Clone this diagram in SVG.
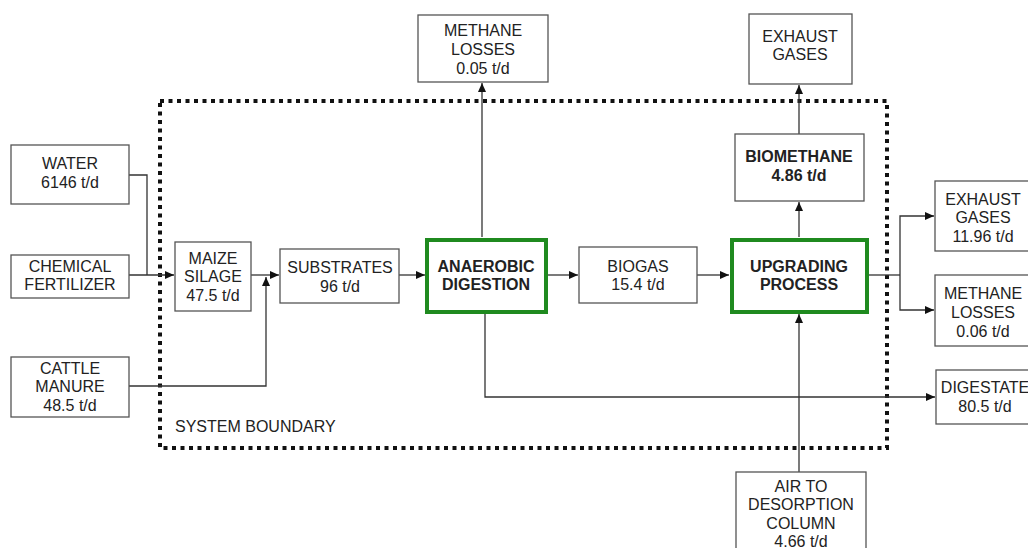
<svg xmlns="http://www.w3.org/2000/svg" width="1028" height="548" viewBox="0 0 1028 548">
<style>
.box{fill:#fff;stroke:#555;stroke-width:1.3}
.gbox{fill:#fff;stroke:#1f8a1f;stroke-width:4}
text{font-family:"Liberation Sans",Arial,sans-serif;font-size:16px;fill:#222;text-anchor:middle}
.b{font-weight:bold}
.c{fill:none;stroke:#333;stroke-width:1.3}
.arr{marker-end:url(#ah)}
</style>
<defs>
<marker id="ah" markerWidth="10" markerHeight="8" refX="9" refY="4" orient="auto" markerUnits="userSpaceOnUse">
<path d="M0,0 L9,4 L0,8 Z" fill="#111"/>
</marker>
</defs>
<rect width="1028" height="548" fill="#fff"/>
<g id="boundary">
<rect x="160" y="101" width="727" height="347" fill="none" stroke="#111" stroke-width="4" stroke-dasharray="4 4.5"/>
<text x="175" y="432" style="text-anchor:start">SYSTEM BOUNDARY</text>
</g>
<g id="connectors">
<path class="c" d="M129,175 H147 V275"/>
<path class="c arr" d="M129,275 H174"/>
<path class="c arr" d="M251,275 H279"/>
<path class="c arr" d="M129,386 H266 V277"/>
<path class="c arr" d="M399,275 H425"/>
<path class="c arr" d="M482,237 V83"/>
<path class="c arr" d="M546,275 H578"/>
<path class="c arr" d="M485,314 V397 H935"/>
<path class="c arr" d="M697,275 H729"/>
<path class="c arr" d="M799,237 V202"/>
<path class="c arr" d="M799,134 V85"/>
<path class="c" d="M869,275 H900"/>
<path class="c arr" d="M900,275 V216 H934"/>
<path class="c arr" d="M900,275 V310 H934"/>
<path class="c arr" d="M799,472 V314"/>
</g>
<g id="water"><rect class="box" x="11" y="145" width="118" height="59"/><text x="70" y="168.5">WATER</text><text x="70" y="187.5">6146 t/d</text></g>
<g id="fertilizer"><rect class="box" x="11" y="255" width="118" height="43"/><text x="70" y="271.5">CHEMICAL</text><text x="70" y="289.5">FERTILIZER</text></g>
<g id="manure"><rect class="box" x="11" y="357" width="118" height="60"/><text x="70" y="373.5">CATTLE</text><text x="70" y="391.5">MANURE</text><text x="70" y="410.5">48.5 t/d</text></g>
<g id="maize"><rect class="box" x="175" y="242" width="76" height="69"/><text x="213" y="263.5">MAIZE</text><text x="213" y="281.5">SILAGE</text><text x="213" y="300.5">47.5 t/d</text></g>
<g id="substrates"><rect class="box" x="280" y="249" width="119" height="54"/><text x="340" y="272.5">SUBSTRATES</text><text x="340" y="291.5">96 t/d</text></g>
<g id="digestion"><rect class="gbox" x="427" y="240" width="119" height="72"/><text class="b" x="486" y="271.5">ANAEROBIC</text><text class="b" x="486" y="289.5">DIGESTION</text></g>
<g id="methane-losses-1"><rect class="box" x="418" y="15" width="130" height="67"/><text x="483" y="35.5">METHANE</text><text x="483" y="54.5">LOSSES</text><text x="483" y="73.5">0.05 t/d</text></g>
<g id="biogas"><rect class="box" x="579" y="247" width="118" height="56"/><text x="638" y="271.5">BIOGAS</text><text x="638" y="289.5">15.4 t/d</text></g>
<g id="upgrading"><rect class="gbox" x="732" y="240" width="135" height="72"/><text class="b" x="799" y="271.5">UPGRADING</text><text class="b" x="799" y="289.5">PROCESS</text></g>
<g id="biomethane"><rect class="box" x="735" y="134" width="129" height="67"/><text class="b" x="799" y="161.5">BIOMETHANE</text><text class="b" x="799" y="180.5">4.86 t/d</text></g>
<g id="exhaust-1"><rect class="box" x="749" y="14" width="103" height="70"/><text x="800" y="41.5">EXHAUST</text><text x="800" y="59.5">GASES</text></g>
<g id="exhaust-2"><rect class="box" x="935" y="181" width="98" height="70"/><text x="983" y="204.5">EXHAUST</text><text x="983" y="222.5">GASES</text><text x="983" y="241.5">11.96 t/d</text></g>
<g id="methane-losses-2"><rect class="box" x="935" y="275" width="98" height="71"/><text x="983" y="298.5">METHANE</text><text x="983" y="317.5">LOSSES</text><text x="983" y="336.5">0.06 t/d</text></g>
<g id="digestate"><rect class="box" x="936" y="370" width="98" height="54"/><text x="985" y="392.5">DIGESTATE</text><text x="985" y="411.5">80.5 t/d</text></g>
<g id="air"><rect class="box" x="736" y="472" width="130" height="90"/><text x="801" y="491.5">AIR TO</text><text x="801" y="509.5">DESORPTION</text><text x="801" y="528.5">COLUMN</text><text x="801" y="546.5">4.66 t/d</text></g>
</svg>
